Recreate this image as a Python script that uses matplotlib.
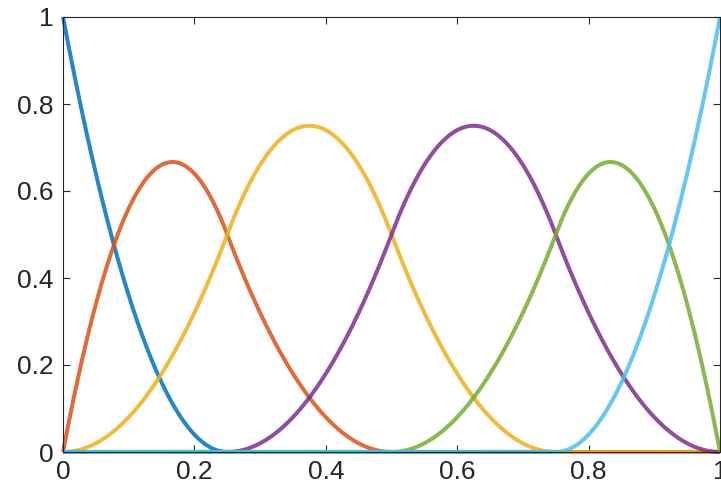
import matplotlib.pyplot as plt
import numpy as np

# quadratic B-spline basis on a clamped knot vector
knots = [0, 0, 0, 0.25, 0.5, 0.75, 1, 1, 1]
degree = 2
colors = ['#0072BD', '#D95319', '#EDB120', '#7E2F8E', '#77AC30', '#4DBEEE']
xticks = [0, 0.2, 0.4, 0.6, 0.8, 1]
yticks = [0, 0.2, 0.4, 0.6, 0.8, 1]
ticklabels = ['0', '0.2', '0.4', '0.6', '0.8', '1']


def basis(i, p, t, x):
    if p == 0:
        if t[i + 1] == t[-1] and t[i] < t[i + 1]:
            return ((x >= t[i]) & (x <= t[i + 1])).astype(float)
        return ((x >= t[i]) & (x < t[i + 1])).astype(float)
    out = np.zeros_like(x)
    if t[i + p] > t[i]:
        out += (x - t[i]) / (t[i + p] - t[i]) * basis(i, p - 1, t, x)
    if t[i + p + 1] > t[i + 1]:
        out += (t[i + p + 1] - x) / (t[i + p + 1] - t[i + 1]) * basis(i + 1, p - 1, t, x)
    return out


plt.rcParams['font.family'] = ['Liberation Sans', 'DejaVu Sans']
fig = plt.figure(figsize=(7.21, 4.97), dpi=100)
ax = fig.add_axes([63 / 721, 45 / 497, 657 / 721, 435 / 497])

xs = np.linspace(0, 1, 801)
n = len(knots) - degree - 1
for i in range(n):
    ax.plot(xs, basis(i, degree, knots, xs), color=colors[i], lw=2.9, alpha=0.85,
            solid_capstyle='butt', clip_on=False)

ax.set_xlim(0, 1)
ax.set_ylim(0, 1)
ax.set_xticks(xticks)
ax.set_yticks(yticks)
ax.set_xticklabels(ticklabels)
ax.set_yticklabels(ticklabels)
ax.tick_params(direction='in', length=5, width=0.8, colors='#262626', labelsize=19,
               top=True, right=True)
ax.tick_params(axis='x', pad=6)
ax.tick_params(axis='y', pad=7)
for s in ax.spines.values():
    s.set_color('#262626')
    s.set_linewidth(0.8)

plt.savefig('out.png', dpi=100)
